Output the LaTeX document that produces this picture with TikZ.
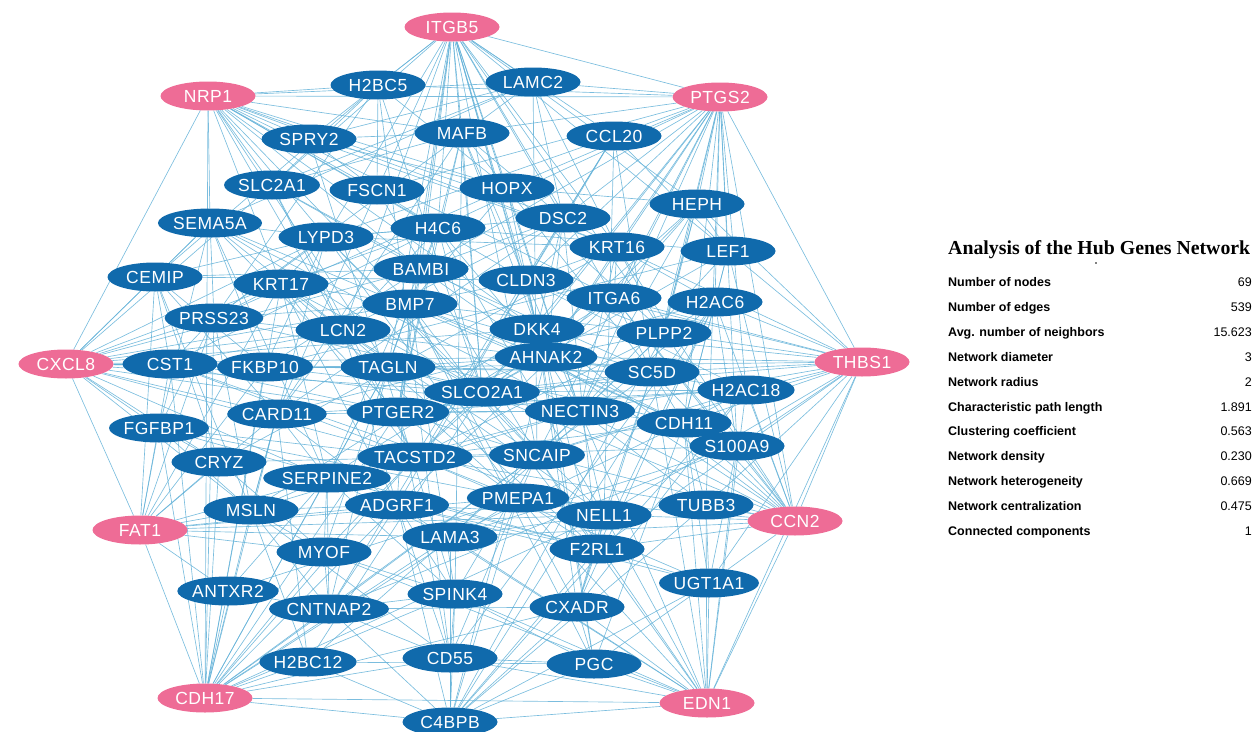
\documentclass[tikz,border=0pt]{standalone}
\usepackage{fontspec}
\setmainfont{Liberation Sans}
\newfontfamily\nodefont[LetterSpace=3.0]{Liberation Sans}
\newfontfamily\titlefont{Liberation Serif}
\usetikzlibrary{shapes.geometric,backgrounds}
\definecolor{hubpink}{RGB}{238,108,150}
\definecolor{geneblue}{RGB}{16,106,172}
\definecolor{edgeblue}{RGB}{100,178,216}
\def\genelist{H2BC5/378/85, LAMC2/533/82, SPRY2/309/139, MAFB/462/133, CCL20/614/136, SLC2A1/272/185, FSCN1/377/190, HOPX/507/188, HEPH/697/204, SEMA5A/210/223, LYPD3/326/237, H4C6/438/228, DSC2/563/218, KRT16/617/247, LEF1/728/251, CEMIP/155/277, KRT17/281/284, BAMBI/421/269, CLDN3/526/280, ITGA6/614/298, H2AC6/715/302, PRSS23/214/318, BMP7/410/304, LCN2/343/330, DKK4/537/329, PLPP2/664/333, CST1/170/364, FKBP10/265/367, TAGLN/388/367, AHNAK2/546/357, SC5D/652/372, H2AC18/746/390, SLCO2A1/482/392, CARD11/277/414, PTGER2/398/412, NECTIN3/580/411, CDH11/684/423, FGFBP1/159/428, S100A9/737/446, CRYZ/219/462, TACSTD2/415/457, SNCAIP/537/455, SERPINE2/327/478, MSLN/251/510, ADGRF1/397/505, PMEPA1/518/498, NELL1/604/515, TUBB3/706/505, LAMA3/450/537, MYOF/324/552, F2RL1/597/549, ANTXR2/228/591, UGT1A1/709/583, SPINK4/455/594, CXADR/577/607, CNTNAP2/329/609, H2BC12/308/662, CD55/450/658, PGC/594/664, C4BPB/450/722}
\begin{document}
\begin{tikzpicture}[x=1pt,y=-1pt,
  gene/.style={ellipse, fill=geneblue, minimum width=95pt, minimum height=29pt, inner sep=0pt, text=white, font=\nodefont\fontsize{17.5}{17.5}\selectfont},
  hub/.style={gene, fill=hubpink},
  link/.style={draw=edgeblue, line width=0.65pt, opacity=0.85},
  rowlabel/.style={anchor=base west, inner sep=0pt, font=\bfseries\fontsize{12.5}{14}\selectfont},
  rowvalue/.style={anchor=base east, inner sep=0pt, font=\fontsize{12.5}{14}\selectfont},
  titletext/.style={anchor=base west, inner sep=0pt, font=\titlefont\bfseries\fontsize{19.8}{22}\selectfont}]
\useasboundingbox (0,0) rectangle (1253,731);
\clip (0,0) rectangle (1253,731);
% hub genes
\node[hub] (ITGB5) at (452,27) {ITGB5};
\node[hub] (NRP1) at (208,96) {NRP1};
\node[hub] (PTGS2) at (720,97) {PTGS2};
\node[hub] (CXCL8) at (66,364) {CXCL8};
\node[hub] (THBS1) at (862,362) {THBS1};
\node[hub] (FAT1) at (140,530) {FAT1};
\node[hub] (CCN2) at (795,521) {CCN2};
\node[hub] (CDH17) at (205,698) {CDH17};
\node[hub] (EDN1) at (707,703) {EDN1};
% other genes
\foreach \n/\x/\y in \genelist { \node[gene] (\n) at (\x,\y) {\n}; }
% connectors
\begin{pgfonlayer}{background}
\foreach \t in {H2BC5,LAMC2,MAFB,SPRY2,CCL20,FSCN1,HOPX,H4C6,DSC2,KRT16,BAMBI,CLDN3,ITGA6,DKK4,LYPD3,SLC2A1,BMP7,LCN2,TAGLN,AHNAK2,SLCO2A1,PTGER2,SNCAIP,NECTIN3,PLPP2,HEPH,LEF1,PTGS2}
  \draw[link] (ITGB5) -- (\t);
\foreach \t in {H2BC5,SPRY2,SLC2A1,FSCN1,SEMA5A,LYPD3,KRT17,MAFB,HOPX,LAMC2,H4C6,BAMBI,DSC2,CLDN3,BMP7,LCN2,TAGLN,KRT16,ITGA6,DKK4,CXCL8,PTGS2,CDH17}
  \draw[link] (NRP1) -- (\t);
\foreach \t in {CCL20,LAMC2,MAFB,HOPX,DSC2,KRT16,HEPH,LEF1,H2AC6,ITGA6,PLPP2,CLDN3,DKK4,AHNAK2,SC5D,H2AC18,CDH11,S100A9,NECTIN3,SNCAIP,TUBB3,H4C6,FSCN1,BAMBI,SLCO2A1,H2BC5,THBS1,CCN2}
  \draw[link] (PTGS2) -- (\t);
\foreach \t in {LEF1,H2AC6,PLPP2,SC5D,H2AC18,CDH11,S100A9,TUBB3,ITGA6,DKK4,AHNAK2,NECTIN3,SLCO2A1,KRT16,HEPH,CLDN3,SNCAIP,NELL1,UGT1A1,F2RL1,TAGLN,CCN2,EDN1}
  \draw[link] (THBS1) -- (\t);
\foreach \t in {CST1,FKBP10,TAGLN,CEMIP,PRSS23,KRT17,SEMA5A,FGFBP1,CARD11,CRYZ,SERPINE2,MSLN,LCN2,BMP7,SLCO2A1,PTGER2,AHNAK2,SC5D,TACSTD2,LYPD3,SLC2A1,BAMBI,DKK4,FAT1}
  \draw[link] (CXCL8) -- (\t);
\foreach \t in {FGFBP1,CRYZ,MSLN,CST1,SERPINE2,ADGRF1,MYOF,CARD11,PRSS23,LAMA3,NELL1,ANTXR2,KRT17,CEMIP,PMEPA1,FKBP10,CDH17}
  \draw[link] (FAT1) -- (\t);
\foreach \t in {ANTXR2,MSLN,CRYZ,FGFBP1,CNTNAP2,MYOF,H2BC12,SERPINE2,ADGRF1,LAMA3,SPINK4,CD55,PMEPA1,CARD11,CST1,TACSTD2,PTGER2,C4BPB,SNCAIP,NELL1,CXADR,KRT17,PRSS23,FKBP10,TAGLN,EDN1}
  \draw[link] (CDH17) -- (\t);
\foreach \t in {TUBB3,S100A9,CDH11,H2AC18,SC5D,UGT1A1,NELL1,F2RL1,PMEPA1,SNCAIP,NECTIN3,PLPP2,H2AC6,ITGA6,LEF1,KRT16,DKK4,AHNAK2,SLCO2A1,LAMA3,TACSTD2,EDN1}
  \draw[link] (CCN2) -- (\t);
\foreach \t in {PGC,CXADR,UGT1A1,F2RL1,NELL1,TUBB3,CD55,C4BPB,SPINK4,PMEPA1,LAMA3,SNCAIP,CDH11,S100A9,H2AC18,ADGRF1,NECTIN3,SC5D,MYOF}
  \draw[link] (EDN1) -- (\t);
\draw[link] (CD55) -- (C4BPB);
\draw[link] (PGC) -- (C4BPB);
\pgfmathsetseed{4217}
\foreach \a/\xa/\ya [count=\i] in \genelist {
  \foreach \b/\xb/\yb [count=\j] in \genelist {
    \ifnum\j>\i
      \pgfmathsetmacro\dd{veclen(\xa-\xb,\ya-\yb)}
      \pgfmathsetmacro\pp{\dd<180 ? 0.40 : (\dd<340 ? 0.18 : 0.05)}
      \pgfmathtruncatemacro\hit{rnd<\pp}
      \ifnum\hit=1 \draw[link] (\a) -- (\b); \fi
    \fi
  }
}
\end{pgfonlayer}
% statistics table
\node[titletext] (title) at (948,254) {Analysis of the Hub\hspace{5pt}Genes Network};
\fill (1096,263) circle (0.8);
\foreach \lab/\val [count=\k] in {Number of nodes/69, Number of edges/539, Avg. number of neighbors/15.623, Network diameter/3, Network radius/2, Characteristic path length/1.891, Clustering coefficient/0.563, Network density/0.230, Network heterogeneity/0.669, Network centralization/0.475, Connected components/1} {
  \node[rowlabel] (lab\k) at (948,{286.5+24.9*(\k-1)}) {\lab};
  \node[rowvalue] (val\k) at (1252,{286.5+24.9*(\k-1)}) {\val};
}
\end{tikzpicture}
\end{document}
